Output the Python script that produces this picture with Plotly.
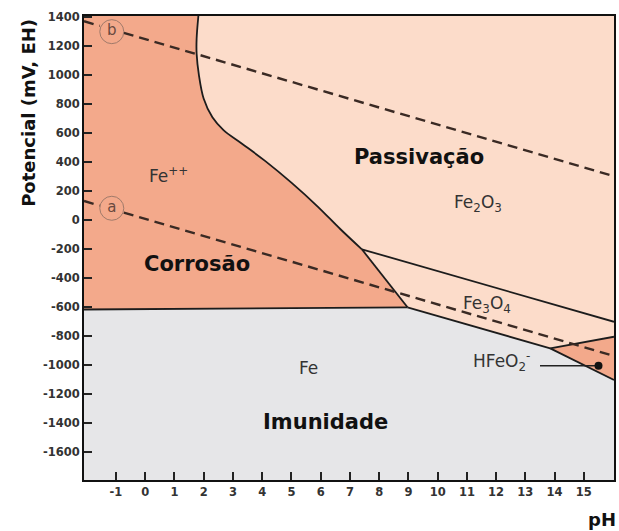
import plotly.graph_objects as go

# ---------------- data ----------------
PH_LO, PH_HI = -2.09, 16.03
E_LO, E_HI = -1791, 1409

x_ticks = list(range(-1, 16))
x_tick_labels = [str(v) for v in x_ticks]
y_ticks = list(range(1400, -1601, -200))
y_tick_labels = [str(v) for v in y_ticks]

# boundary lines (pH, potential mV)
fe_fe2_ph = [PH_LO, 8.97]
fe_fe2_e = [-615, -600]
fe2_fe2o3_ph = [1.82, 1.76, 1.76, 1.84, 2.0, 2.3, 2.68, 3.3, 4.1, 5.0, 5.9, 6.67, 7.41]
fe2_fe2o3_e = [E_HI, 1250, 1150, 1000, 840, 710, 622, 530, 410, 260, 95, -60, -200]
fe2_fe3o4_ph = [7.41, 8.97]
fe2_fe3o4_e = [-200, -600]
fe2o3_fe3o4_ph = [7.41, PH_HI]
fe2o3_fe3o4_e = [-200, -700]
fe3o4_fe_ph = [8.97, 13.85]
fe3o4_fe_e = [-600, -883]
fe_hfeo2_ph = [13.85, PH_HI]
fe_hfeo2_e = [-883, -1101]
fe3o4_hfeo2_ph = [13.85, PH_HI]
fe3o4_hfeo2_e = [-883, -803]

# dashed water lines (a) and (b)
line_a_ph = [PH_LO, -1.55, None, -0.73, 15.9]
line_a_e = [133, 101, None, 53, -928]
line_b_ph = [PH_LO, -1.55, None, -0.73, 15.9]
line_b_e = [1373, 1341, None, 1293, 312]

circle_ph = [-1.14, -1.14]
circle_e = [1301, 83]
circle_txt = ["b", "a"]

pointer_ph = [13.5, 15.5]
pointer_e = [-1003, -1003]

label_txt = ["Fe<sup>++</sup>", "Corrosão", "Passivação", "Fe<sub>2</sub>O<sub>3</sub>",
             "Fe<sub>3</sub>O<sub>4</sub>", "Fe", "Imunidade", "HFeO<sub>2</sub><sup>-</sup>"]
label_ph = [0.79, 1.76, 9.37, 11.38, 11.69, 5.57, 6.15, 12.2]
label_e = [312, -303, 437, 119, -578, -1017, -1389, -976]
label_bold = [False, True, True, False, False, False, True, False]

C_CORR = "#F3A98B"
C_PASS = "#FCDCCA"
C_IMM = "#E6E6E8"

# ---------------- regions ----------------
corr_x = [PH_LO] + fe2_fe2o3_ph + fe2_fe3o4_ph[1:] + fe_fe2_ph[::-1][1:]
corr_y = [E_HI] + fe2_fe2o3_e + fe2_fe3o4_e[1:] + fe_fe2_e[::-1][1:]
pass_x = fe2_fe2o3_ph + fe2o3_fe3o4_ph[1:] + [PH_HI]
pass_y = fe2_fe2o3_e + fe2o3_fe3o4_e[1:] + [E_HI]
mag_x = fe2o3_fe3o4_ph + fe3o4_hfeo2_ph[::-1] + fe3o4_fe_ph[::-1][1:] + fe2_fe3o4_ph[::-1][1:]
mag_y = fe2o3_fe3o4_e + fe3o4_hfeo2_e[::-1] + fe3o4_fe_e[::-1][1:] + fe2_fe3o4_e[::-1][1:]
hf_x = fe3o4_hfeo2_ph + fe_hfeo2_ph[::-1]
hf_y = fe3o4_hfeo2_e + fe_hfeo2_e[::-1]
imm_x = fe_fe2_ph + fe3o4_fe_ph[1:] + fe_hfeo2_ph[1:] + [PH_HI, PH_LO]
imm_y = fe_fe2_e + fe3o4_fe_e[1:] + fe_hfeo2_e[1:] + [E_LO, E_LO]

fig = go.Figure()
for xs, ys, col in [(imm_x, imm_y, C_IMM), (corr_x, corr_y, C_CORR), (pass_x, pass_y, C_PASS),
                    (mag_x, mag_y, C_PASS), (hf_x, hf_y, C_CORR)]:
    fig.add_trace(go.Scatter(x=xs, y=ys, fill="toself", fillcolor=col, mode="lines",
                             line=dict(width=0, color=col), hoverinfo="skip"))

# boundaries
bx, by = [], []
for px, py in [(fe_fe2_ph, fe_fe2_e), (fe2_fe2o3_ph, fe2_fe2o3_e), (fe2_fe3o4_ph, fe2_fe3o4_e),
               (fe2o3_fe3o4_ph, fe2o3_fe3o4_e), (fe3o4_fe_ph, fe3o4_fe_e),
               (fe_hfeo2_ph, fe_hfeo2_e), (fe3o4_hfeo2_ph, fe3o4_hfeo2_e)]:
    bx += px + [None]
    by += py + [None]
fig.add_trace(go.Scatter(x=bx, y=by, mode="lines", line=dict(color="#1c1c1c", width=1.8),
                         line_shape="spline", hoverinfo="skip"))

for px, py in [(line_a_ph, line_a_e), (line_b_ph, line_b_e)]:
    fig.add_trace(go.Scatter(x=px, y=py, mode="lines",
                             line=dict(color="#3a2a24", width=2.4, dash="10px,6px"),
                             hoverinfo="skip"))

fig.add_trace(go.Scatter(x=circle_ph, y=circle_e, mode="markers+text", text=circle_txt,
                         textposition="middle center",
                         textfont=dict(family="DejaVu Sans", size=15, color="#6a4a40"),
                         marker=dict(symbol="circle-open", size=24,
                                     line=dict(width=1, color="#a07a6a"), color="#a07a6a"),
                         hoverinfo="skip"))

fig.add_trace(go.Scatter(x=pointer_ph, y=pointer_e, mode="lines",
                         line=dict(color="#222", width=1.5), hoverinfo="skip"))
fig.add_trace(go.Scatter(x=pointer_ph[1:], y=pointer_e[1:], mode="markers",
                         marker=dict(size=8, color="#111"), hoverinfo="skip"))

for t, xp, yp, b in zip(label_txt, label_ph, label_e, label_bold):
    fig.add_annotation(x=xp, y=yp, text=t, showarrow=False,
                       font=dict(family="DejaVu Sans", size=21 if b else 17,
                                 color="#111" if b else "#333",
                                 weight="bold" if b else "normal"))

fig.add_annotation(xref="paper", yref="paper", x=-0.104, y=0.791, text="Potencial (mV, EH)",
                   textangle=-90, showarrow=False, xanchor="center", yanchor="middle",
                   font=dict(family="DejaVu Sans", size=18, color="#111", weight="bold"))
fig.add_annotation(xref="paper", yref="paper", x=0.977, y=-0.085, text="pH", showarrow=False,
                   xanchor="center", yanchor="middle",
                   font=dict(family="DejaVu Sans", size=18, color="#111", weight="bold"))

axis_common = dict(showgrid=False, zeroline=False, showline=True, linecolor="#111", linewidth=2,
                   mirror=True, ticks="inside", ticklen=8, tickwidth=1.5, tickcolor="#222",
                   automargin=False,
                   tickfont=dict(family="DejaVu Sans", size=11.5, color="#333", weight="bold"))
fig.update_xaxes(range=[PH_LO, PH_HI], tickvals=x_ticks, ticktext=x_tick_labels, **axis_common)
fig.update_yaxes(range=[E_LO, E_HI], tickvals=y_ticks, ticktext=y_tick_labels, **axis_common)

fig.update_layout(width=619, height=531, margin=dict(l=84, r=5, t=16, b=51),
                  paper_bgcolor="white", plot_bgcolor="white", showlegend=False)

fig.write_html("out.html", config={"displayModeBar": False},
               post_script="document.body.style.margin='0';document.body.style.overflow='hidden';")
